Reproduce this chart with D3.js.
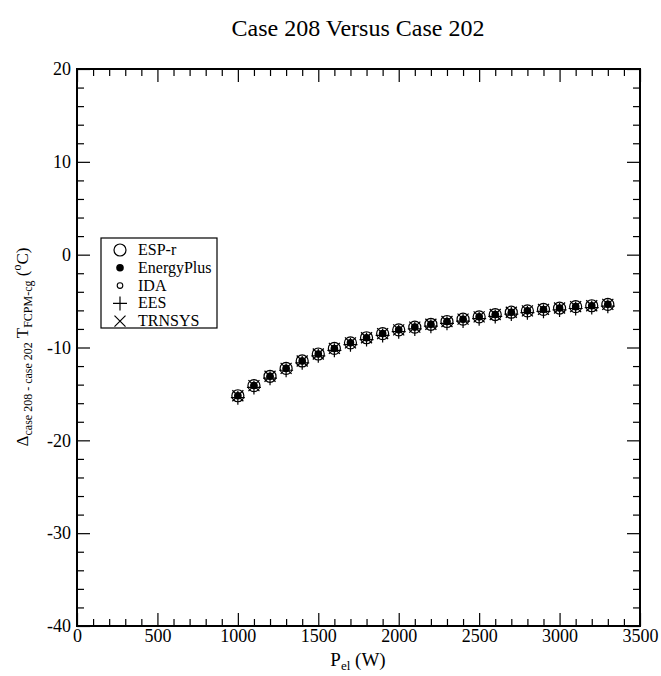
<!DOCTYPE html>
<html><head><meta charset="utf-8">
<script src="https://cdn.jsdelivr.net/npm/d3@7"></script>
<style>body{margin:0;background:#fff}svg{display:block}text{font-family:"Liberation Serif","Times New Roman",serif}</style>
</head><body>
<svg id="c" width="661" height="676"></svg>
<script>
const xVals = [1000,1100,1200,1300,1400,1500,1600,1700,1800,1900,2000,2100,2200,2300,2400,2500,2600,2700,2800,2900,3000,3100,3200,3300];
const espr    = [-15.2,-14.1,-13.1,-12.25,-11.45,-10.7,-10.1,-9.5,-8.95,-8.5,-8.1,-7.8,-7.5,-7.2,-6.95,-6.7,-6.45,-6.2,-6.05,-5.9,-5.75,-5.6,-5.5,-5.35];
const energyplus = [-15.2,-14.1,-13.1,-12.25,-11.45,-10.7,-10.1,-9.5,-8.95,-8.5,-8.1,-7.8,-7.5,-7.2,-6.95,-6.7,-6.45,-6.2,-6.05,-5.9,-5.75,-5.6,-5.5,-5.35];
const ida     = [-15.2,-14.1,-13.1,-12.25,-11.45,-10.7,-10.1,-9.5,-8.95,-8.5,-8.1,-7.8,-7.5,-7.2,-6.95,-6.7,-6.45,-6.2,-6.05,-5.9,-5.75,-5.6,-5.5,-5.35];
const ees     = [-15.4,-14.3,-13.3,-12.45,-11.65,-10.9,-10.3,-9.7,-9.15,-8.7,-8.3,-8.0,-7.7,-7.4,-7.15,-6.9,-6.65,-6.4,-6.25,-6.1,-5.95,-5.8,-5.7,-5.55];
const trnsys  = [-15.2,-14.1,-13.1,-12.25,-11.45,-10.7,-10.1,-9.5,-8.95,-8.5,-8.1,-7.8,-7.5,-7.2,-6.95,-6.7,-6.45,-6.2,-6.05,-5.9,-5.75,-5.6,-5.5,-5.35];
const seriesNames = ["ESP-r","EnergyPlus","IDA","EES","TRNSYS"];
const xTicks = [0,500,1000,1500,2000,2500,3000,3500];
const yTicks = [-40,-30,-20,-10,0,10,20];
const title = "Case 208 Versus Case 202";

const svg = d3.select("#c");
const L=77, R=640, T=69, B=626;
const x = d3.scaleLinear().domain([0,3500]).range([L,R]);
const y = d3.scaleLinear().domain([-40,20]).range([B,T]);
const xMinor = d3.range(0,3501,100).filter(v=>v%500!==0);
const yMinor = d3.range(-40,21,2).filter(v=>v%10!==0);
const fmt = d=>String(d);

function styleAxis(g){ g.select(".domain").remove(); g.selectAll("line").attr("stroke","#000").attr("stroke-width",1.2); g.selectAll("text").attr("font-family","Liberation Serif").attr("font-size",18).attr("fill","#000"); }

svg.append("g").attr("transform",`translate(0,${B})`).call(d3.axisBottom(x).tickValues(xTicks).tickSize(-13).tickPadding(3).tickFormat(fmt)).call(styleAxis);
svg.append("g").attr("transform",`translate(0,${B})`).call(d3.axisBottom(x).tickValues(xMinor).tickSize(-7).tickFormat("")).call(styleAxis);
svg.append("g").attr("transform",`translate(0,${T})`).call(d3.axisTop(x).tickValues(xTicks).tickSize(-13).tickFormat("")).call(styleAxis);
svg.append("g").attr("transform",`translate(0,${T})`).call(d3.axisTop(x).tickValues(xMinor).tickSize(-7).tickFormat("")).call(styleAxis);
svg.append("g").attr("transform",`translate(${L},0)`).call(d3.axisLeft(y).tickValues(yTicks).tickSize(-13).tickPadding(6).tickFormat(fmt)).call(styleAxis);
svg.append("g").attr("transform",`translate(${L},0)`).call(d3.axisLeft(y).tickValues(yMinor).tickSize(-7).tickFormat("")).call(styleAxis);
svg.append("g").attr("transform",`translate(${R},0)`).call(d3.axisRight(y).tickValues(yTicks).tickSize(-13).tickFormat("")).call(styleAxis);
svg.append("g").attr("transform",`translate(${R},0)`).call(d3.axisRight(y).tickValues(yMinor).tickSize(-7).tickFormat("")).call(styleAxis);

svg.append("rect").attr("x",L).attr("y",T).attr("width",R-L).attr("height",B-T).attr("fill","none").attr("stroke","#000").attr("stroke-width",2);

function drawMarker(g, type, cx, cy){
  if(type==="ESP-r") g.append("circle").attr("cx",cx).attr("cy",cy).attr("r",6).attr("fill","none").attr("stroke","#000").attr("stroke-width",1.2);
  else if(type==="EnergyPlus") g.append("circle").attr("cx",cx).attr("cy",cy).attr("r",3.8).attr("fill","#000");
  else if(type==="IDA") g.append("circle").attr("cx",cx).attr("cy",cy).attr("r",2.8).attr("fill","none").attr("stroke","#000").attr("stroke-width",1.1);
  else if(type==="EES") g.append("path").attr("d",`M${cx-7},${cy}H${cx+7}M${cx},${cy-7}V${cy+7}`).attr("stroke","#000").attr("stroke-width",1.2);
  else if(type==="TRNSYS") g.append("path").attr("d",`M${cx-5.5},${cy-5.5}L${cx+5.5},${cy+5.5}M${cx-5.5},${cy+5.5}L${cx+5.5},${cy-5.5}`).attr("stroke","#000").attr("stroke-width",1.2);
}
const seriesData = [espr,energyplus,ida,ees,trnsys];
const pts = svg.append("g");
seriesNames.forEach((name,i)=>{
  xVals.forEach((xv,j)=>drawMarker(pts,name,x(xv),y(seriesData[i][j])));
});

const lg = svg.append("g");
lg.append("rect").attr("x",101).attr("y",238).attr("width",116).attr("height",90).attr("fill","#fff").attr("stroke","#000").attr("stroke-width",1.2);
seriesNames.forEach((name,i)=>{
  const ly = 250 + i*17.8;
  drawMarker(lg,name,120,ly);
  lg.append("text").attr("x",138).attr("y",ly+5).attr("font-size",16).text(name);
});

svg.append("text").attr("x",358).attr("y",36).attr("text-anchor","middle").attr("font-size",24).text(title);

const xl = svg.append("text").attr("x",358).attr("y",666).attr("text-anchor","middle").attr("font-size",19);
xl.append("tspan").text("P");
xl.append("tspan").attr("font-size",13).attr("dy",4).text("el");
xl.append("tspan").attr("dy",-4).text(" (W)");

const yl = svg.append("text").attr("transform","translate(28,347) rotate(-90)").attr("text-anchor","middle").attr("font-size",17);
yl.append("tspan").text("Δ");
yl.append("tspan").attr("font-size",12).attr("dy",4).text("case 208 - case 202");
yl.append("tspan").attr("dy",-4).text(" T");
yl.append("tspan").attr("font-size",12).attr("dy",4).text("FCPM-cg");
yl.append("tspan").attr("dy",-4).text(" (");
yl.append("tspan").attr("font-size",12).attr("dy",-7).text("o");
yl.append("tspan").attr("dy",7).text("C)");
</script>
</body></html>
